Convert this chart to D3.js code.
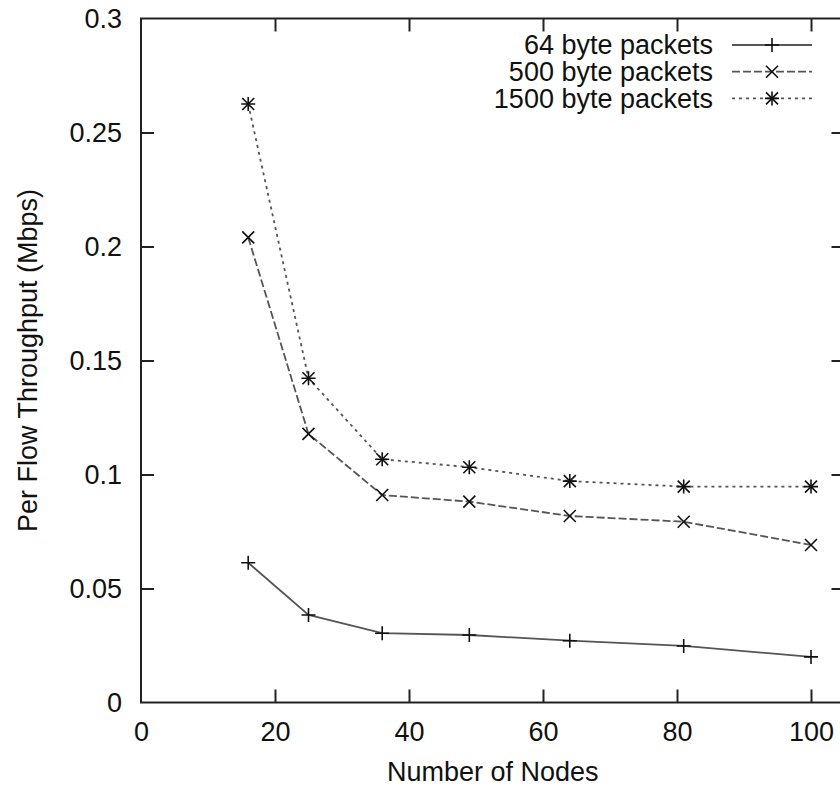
<!DOCTYPE html>
<html>
<head>
<meta charset="utf-8">
<script src="https://cdn.jsdelivr.net/npm/d3@7"></script>
<style>
  body { margin: 0; background: #fff; }
  svg { display: block; font-family: "Liberation Sans", Arial, sans-serif; }
</style>
</head>
<body>
<div id="chart"></div>
<script>
// values
var nodes = [16, 25, 36, 49, 64, 81, 100];
var small = [0.0613, 0.0384, 0.0304, 0.0296, 0.0271, 0.0248, 0.0200];
var medium = [0.2040, 0.1178, 0.0910, 0.0881, 0.0818, 0.0793, 0.0691];
var large = [0.2625, 0.1422, 0.1067, 0.1032, 0.0971, 0.0947, 0.0947];
var seriesNames = ["64 byte packets", "500 byte packets", "1500 byte packets"];
var xTicks = [0, 20, 40, 60, 80, 100];
var yTicks = [0, 0.05, 0.1, 0.15, 0.2, 0.25, 0.3];

var width = 840, height = 786;
// plot frame (right edge falls just outside the picture)
var plotL = 141, plotR = 844.5, plotT = 18.5, plotB = 702.5;

var svg = d3.select("#chart").append("svg")
	.attr("width", width)
	.attr("height", height);

var x = d3.scaleLinear().domain([0, 105]).range([plotL, plotR]);
var y = d3.scaleLinear().domain([0, 0.3]).range([plotB, plotT]);

var fmt = d3.format("~g");

// axes, ticks point inwards like gnuplot
var gl = svg.append("g").attr("transform", "translate(" + plotL + ",0)")
	.call(d3.axisLeft(y).tickValues(yTicks).tickSize(-13).tickPadding(19).tickFormat(fmt));
var gb = svg.append("g").attr("transform", "translate(0," + plotB + ")")
	.call(d3.axisBottom(x).tickValues(xTicks).tickSize(-13).tickPadding(19).tickFormat(fmt));
var gt = svg.append("g").attr("transform", "translate(0," + plotT + ")")
	.call(d3.axisTop(x).tickValues(xTicks.slice(1)).tickSize(-13).tickFormat(""));
var gr = svg.append("g").attr("transform", "translate(" + plotR + ",0)")
	.call(d3.axisRight(y).tickValues(yTicks.slice(1, -1)).tickSize(-13).tickFormat(""));

// no ticks on the corners
gl.selectAll(".tick").filter(function(d) { return d === 0 || d === 0.3; }).select("line").remove();
gb.selectAll(".tick").filter(function(d) { return d === 0; }).select("line").remove();

[gl, gb, gt, gr].forEach(function(g) {
	g.select(".domain").remove();
	g.selectAll(".tick line").attr("stroke", "#222").attr("stroke-width", 2);
	g.selectAll(".tick text").attr("fill", "#111").attr("font-size", "27px")
		.attr("font-family", "Liberation Sans, Arial, sans-serif");
});

svg.append("rect")
	.attr("x", plotL).attr("y", plotT)
	.attr("width", plotR - plotL).attr("height", plotB - plotT)
	.attr("fill", "none").attr("stroke", "#222").attr("stroke-width", 2);

svg.append("text")
	.attr("x", (plotL + plotR) / 2).attr("y", 781)
	.attr("text-anchor", "middle").attr("font-size", "27px").attr("fill", "#111")
	.text("Number of Nodes");

svg.append("text")
	.attr("transform", "translate(37," + (plotT + plotB) / 2 + ") rotate(-90)")
	.attr("text-anchor", "middle").attr("font-size", "27px").attr("fill", "#111")
	.text("Per Flow Throughput (Mbps)");

// markers
var plus = function(g, cx, cy) {
	g.append("path").attr("d", "M" + (cx - 7) + "," + cy + "h14M" + cx + "," + (cy - 7) + "v14")
		.attr("stroke", "#111").attr("stroke-width", 1.6).attr("fill", "none");
};
var cross = function(g, cx, cy) {
	g.append("path").attr("d", "M" + (cx - 6) + "," + (cy - 6) + "l12,12M" + (cx - 6) + "," + (cy + 6) + "l12,-12")
		.attr("stroke", "#111").attr("stroke-width", 1.6).attr("fill", "none");
};
var star = function(g, cx, cy) { plus(g, cx, cy); cross(g, cx, cy); };

var series = [
	{ name: seriesNames[0], values: small, dash: null, marker: plus },
	{ name: seriesNames[1], values: medium, dash: "8,3", marker: cross },
	{ name: seriesNames[2], values: large, dash: "3,4", marker: star }
];

var line = d3.line()
	.x(function(d) { return x(d[0]); })
	.y(function(d) { return y(d[1]); });

series.forEach(function(s, i) {
	var pts = nodes.map(function(n, j) { return [n, s.values[j]]; });
	svg.append("path")
		.datum(pts)
		.attr("fill", "none")
		.attr("stroke", "#555")
		.attr("stroke-width", 1.8)
		.attr("stroke-dasharray", s.dash)
		.attr("d", line);
	var mg = svg.append("g");
	pts.forEach(function(p) { s.marker(mg, x(p[0]), y(p[1])); });

	// legend row
	var ly = 45 + i * 26.7;
	svg.append("text")
		.attr("x", 713).attr("y", ly).attr("dy", "0.35em")
		.attr("text-anchor", "end").attr("font-size", "27px").attr("fill", "#111")
		.text(s.name);
	svg.append("line")
		.attr("x1", 732).attr("x2", 812).attr("y1", ly).attr("y2", ly)
		.attr("stroke", "#555").attr("stroke-width", 1.8)
		.attr("stroke-dasharray", s.dash);
	s.marker(svg.append("g"), 772, ly);
});
</script>
</body>
</html>
